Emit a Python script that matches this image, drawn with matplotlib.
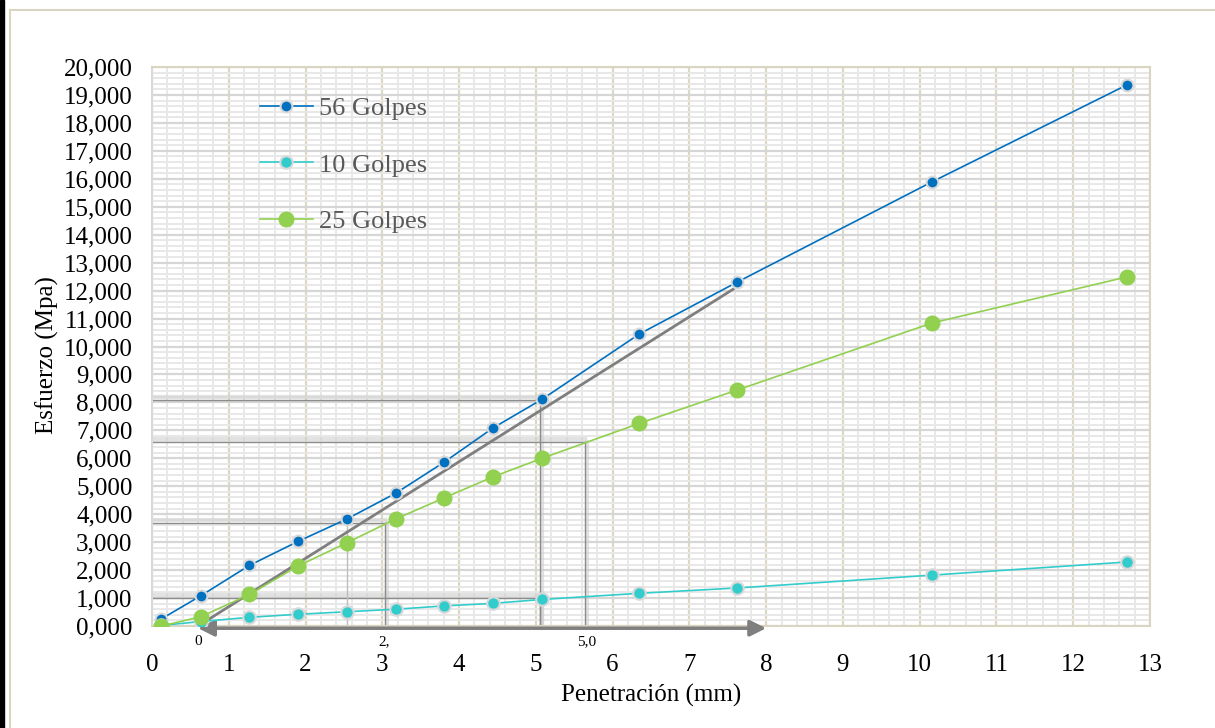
import matplotlib.pyplot as plt
from matplotlib.patches import Rectangle
from matplotlib.ticker import MultipleLocator, FuncFormatter

plt.rcParams["font.family"] = ["Liberation Serif", "DejaVu Serif"]

# Penetración (mm)
penetracion = [0.12, 0.635, 1.27, 1.905, 2.54, 3.175, 3.81, 4.445, 5.08, 6.35, 7.62, 10.16, 12.7]

# Esfuerzo (Mpa) por serie
golpes_56 = [0.25, 1.08, 2.17, 3.03, 3.83, 4.75, 5.87, 7.09, 8.11, 10.45, 12.30, 15.89, 19.36]
golpes_10 = [0.02, 0.16, 0.31, 0.42, 0.51, 0.60, 0.72, 0.81, 0.95, 1.17, 1.36, 1.82, 2.29]
golpes_25 = [0.0, 0.33, 1.13, 2.15, 2.98, 3.83, 4.59, 5.34, 6.00, 7.25, 8.44, 10.84, 12.49]

# lineas de lectura (x final, y)
lecturas = [(3.03, 3.68), (5.05, 8.08), (5.64, 6.58), (5.05, 1.0)]
etiquetas = [(0.6, "0"), (3.03, "2,"), (5.66, "5,0")]

# recta de correccion
recta_x = [0.6, 7.57]
recta_y = [0.0, 12.05]


def fmt(v, pos):
    return f"{v:.3f}".replace(".", ",")


def main():
    fig = plt.figure(figsize=(12.15, 7.28), dpi=100)
    ax = fig.add_axes([152 / 1215, 1 - 626 / 728, 998 / 1215, 559 / 728])

    # marco de la figura
    fig.patches.append(Rectangle((0, 0), 4 / 1215, 1, transform=fig.transFigure,
                                 color="black", zorder=0))
    fig.patches.append(Rectangle((10 / 1215, -0.1), 1.2, (728 - 10) / 728 + 0.1,
                                 transform=fig.transFigure, fill=False,
                                 edgecolor="#d9d5c0", lw=1.5, zorder=0))

    ax.set_xlim(0, 13)
    ax.set_ylim(0, 20)
    ax.xaxis.set_major_locator(MultipleLocator(1))
    ax.yaxis.set_major_locator(MultipleLocator(1))
    ax.xaxis.set_minor_locator(MultipleLocator(0.2))
    ax.yaxis.set_minor_locator(MultipleLocator(0.2))
    ax.yaxis.set_major_formatter(FuncFormatter(fmt))

    ax.grid(which="minor", color="#e8e8e8", lw=1.4)
    ax.grid(which="major", axis="y", color="#d6d6d6", lw=1.6)
    ax.grid(which="major", axis="x", color="#ddd8c3", lw=1.6)
    ax.set_axisbelow(True)

    for side in ["top", "right", "bottom"]:
        ax.spines[side].set_color("#d9d5c0")
        ax.spines[side].set_linewidth(1.5)
    ax.spines["left"].set_color("#d9d9d9")
    ax.spines["left"].set_linewidth(1.5)

    ax.tick_params(which="both", length=0)
    ax.tick_params(axis="y", labelsize=18, pad=14)
    ax.tick_params(axis="x", labelsize=18, pad=20)

    # lineas de lectura
    for xe, yv in lecturas:
        ax.plot([0, xe], [yv + 0.12, yv + 0.12], color="#cfcfcf", lw=3, alpha=0.6, zorder=1)
        ax.plot([0, xe], [yv, yv], color="#8c8c8c", lw=1, zorder=1.5)
        ax.plot([xe + 0.03, xe + 0.03], [0, yv], color="#cfcfcf", lw=3, alpha=0.6, zorder=1)
        ax.plot([xe, xe], [0, yv], color="#8c8c8c", lw=1, zorder=1.5)
    ax.plot([2.54, 2.54], [0, 3.83], color="#bdbdbd", lw=1, zorder=1.5)

    ax.plot(recta_x, recta_y, color="#7f7f7f", lw=2, zorder=2)
    ax.annotate("", xy=(0.6, -0.08), xytext=(8.0, -0.08),
                arrowprops=dict(arrowstyle="<|-|>", color="#7f7f7f", lw=2.5,
                                mutation_scale=24, shrinkA=0, shrinkB=0),
                annotation_clip=False, zorder=3)
    for xv, txt in etiquetas:
        ax.text(xv, -0.55, txt, ha="center", va="center", fontsize=11, clip_on=False)

    ax.plot(penetracion, golpes_56, color="#0070c0", lw=1.2, marker="o", ms=8.5,
            mfc="#0070c0", mec="#d9d9d9", mew=1.5, label="56 Golpes", zorder=4)
    ax.plot(penetracion, golpes_10, color="#33cccc", lw=1.2, marker="o", ms=9,
            mfc="#33cccc", mec="#d9d9d9", mew=1.5, label="10 Golpes", zorder=4)
    ax.plot(penetracion, golpes_25, color="#92d050", lw=1.2, marker="o", ms=10.5,
            mfc="#92d050", mec="#92d050", mew=1, label="25 Golpes", zorder=4)

    leg = ax.legend(loc="upper left", bbox_to_anchor=(0.108, 0.947), frameon=False,
                    fontsize=19, labelspacing=1.25, handlelength=2.0,
                    handletextpad=0.25, borderpad=0, borderaxespad=0)
    for t in leg.get_texts():
        t.set_color("#595959")

    ax.set_xlabel("Penetración (mm)", fontsize=18, labelpad=6)
    fig.text(47 / 1215, 1 - 355 / 728, "Esfuerzo (Mpa)", rotation=90,
             ha="center", va="center", fontsize=18)

    fig.savefig("out.png", dpi=100)
    plt.close(fig)


if __name__ == "__main__":
    main()
